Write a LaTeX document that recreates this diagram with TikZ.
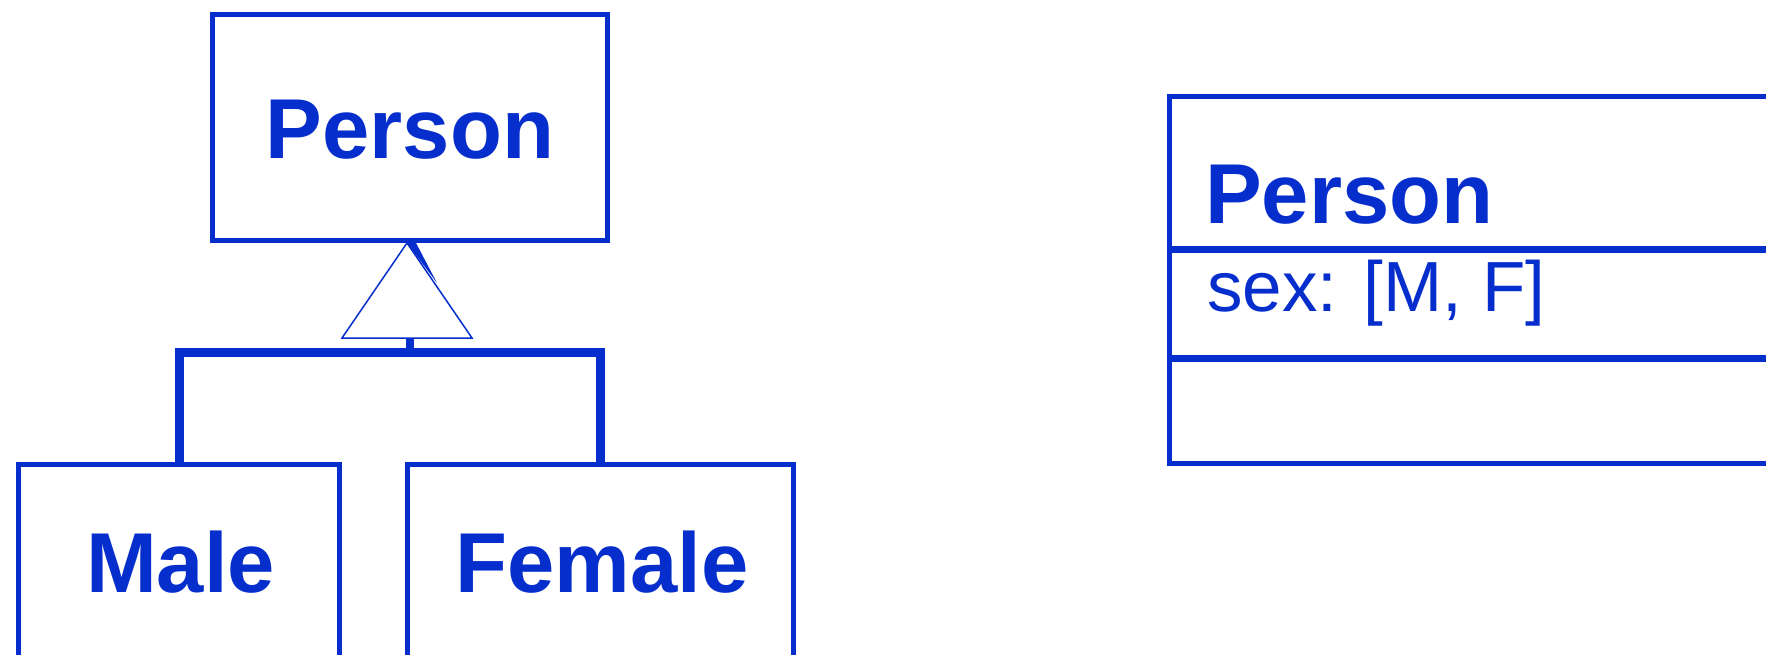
\documentclass[tikz,border=0pt]{standalone}
\usepackage{fontspec}
\setmainfont{Liberation Sans}
\definecolor{umlblue}{RGB}{6,46,204}
\begin{document}
\begin{tikzpicture}[x=1pt,y=-1pt,
  box/.style={draw=umlblue, line width=5pt, rectangle, inner sep=0pt},
  lbl/.style={text=umlblue, inner sep=0pt, font=\fontsize{85}{100}\selectfont\bfseries},
  attr/.style={text=umlblue, inner sep=0pt, font=\fontsize{71}{85}\selectfont},
  conn/.style={draw=umlblue, line width=9pt},
  divider/.style={draw=umlblue, line width=7pt},
  gentri/.style={draw=umlblue, line width=1.5pt, fill=white}]
\clip (0,0) rectangle (1766,654);
\fill[white] (0,0) rectangle (1766,654);
% left hierarchy
\node[box, minimum width=395pt, minimum height=226pt] (person) at (410,127.5) {};
\node[lbl, anchor=base] (personlbl) at (410,158) {Person};
\node[box, minimum width=321pt, minimum height=193pt] (male) at (179,561) {};
\node[lbl, anchor=base] (malelbl) at (180.5,592) {Male};
\node[box, minimum width=386pt, minimum height=193pt] (female) at (600.5,561) {};
\node[lbl, anchor=base] (femalelbl) at (602,592) {Female};
% generalization connector
\coordinate (join) at (410,352);
\coordinate (apex) at ([xshift=-3pt]person.south);
\coordinate (tribase) at (407,338);
\draw[conn] (male.north) |- (join) -| (female.north);
\draw[conn, line width=8pt] (join |- tribase) -- (join);
\draw[gentri] (apex) -- ++(-65,95) -- ++(130,0) -- cycle;
\fill[umlblue] (apex) -- ++(9,0) -- ++(21,40) -- cycle;
% right class box
\node[box, minimum width=630pt, minimum height=367pt] (cls) at (1484.5,280) {};
\node[lbl, anchor=base west] (clsname) at (1205,223) {Person};
\node[attr, anchor=base west] (clsattr) at (1207,311) {sex: [M, F]};
\coordinate (d1) at (1167,249);
\coordinate (d2) at (1167,358);
\draw[divider] (d1) -- (d1 -| cls.east);
\draw[divider] (d2) -- (d2 -| cls.east);
\end{tikzpicture}
\end{document}
